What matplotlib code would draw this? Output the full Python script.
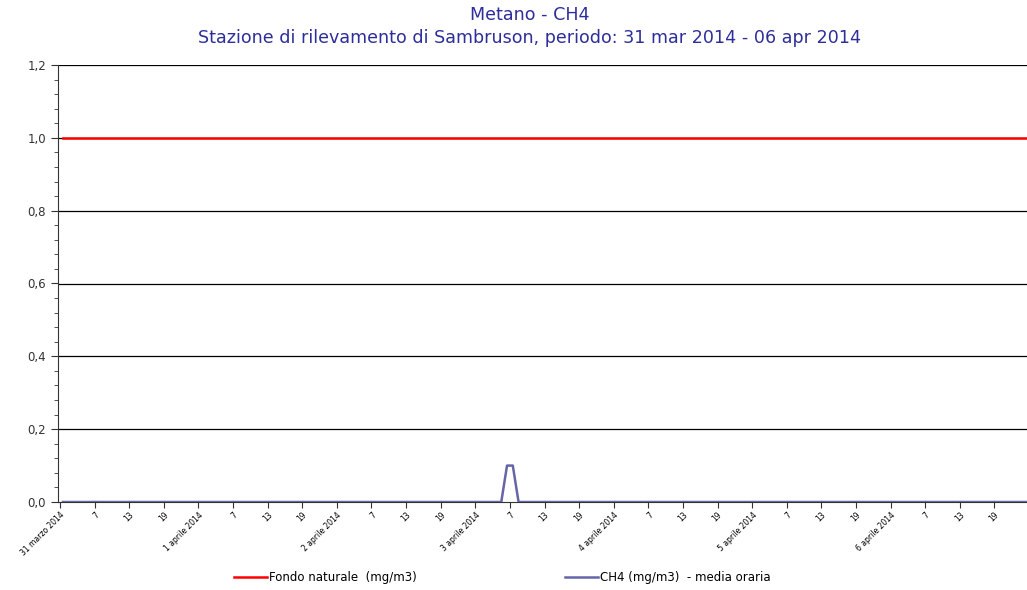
import numpy as np
import matplotlib
matplotlib.use("Agg")
import matplotlib.pyplot as plt
from matplotlib.ticker import MultipleLocator, FuncFormatter

# hourly categories: 7 days x 24 hours (hour 1..24)
days = ["31 marzo 2014", "1 aprile 2014", "2 aprile 2014", "3 aprile 2014",
        "4 aprile 2014", "5 aprile 2014", "6 aprile 2014"]
hour_ticks = [1, 7, 13, 19]

# CH4 hourly means (mg/m3), one list per day
ch4_31mar = [0.0] * 24
ch4_01apr = [0.0] * 24
ch4_02apr = [0.0] * 24
ch4_03apr = [0.0, 0.0, 0.0, 0.0, 0.0, 0.1, 0.1, 0.0, 0.0, 0.0, 0.0, 0.0,
             0.0, 0.0, 0.0, 0.0, 0.0, 0.0, 0.0, 0.0, 0.0, 0.0, 0.0, 0.0]
ch4_04apr = [0.0] * 24
ch4_05apr = [0.0] * 24
ch4_06apr = [0.0] * 24
fondo_naturale = 1.0

ch4 = ch4_31mar + ch4_01apr + ch4_02apr + ch4_03apr + ch4_04apr + ch4_05apr + ch4_06apr
n = len(ch4)
x = np.arange(n)

title_col = "#2e2e9a"
fig = plt.figure(figsize=(10.27, 5.90), dpi=100)
ax = fig.add_axes([58 / 1027, 88 / 590, 1 - 58 / 1027, (502 - 65) / 590])

for y in [0.2, 0.4, 0.6, 0.8, 1.0, 1.2]:
    ax.axhline(y, color="black", lw=0.9, zorder=1)

l1, = ax.plot(x, np.full(n, fondo_naturale), color="#ff0000", lw=1.8, zorder=3,
              label="Fondo naturale  (mg/m3)")
l2, = ax.plot(x, ch4, color="#6565a8", lw=1.8, zorder=3,
              label="CH4 (mg/m3)  - media oraria")

ax.set_xlim(-0.85, n - 0.85)
ax.set_ylim(0, 1.2)

ax.yaxis.set_major_locator(MultipleLocator(0.2))
ax.yaxis.set_minor_locator(MultipleLocator(0.04))
ax.yaxis.set_major_formatter(FuncFormatter(lambda v, p: f"{v:.1f}".replace(".", ",")))
ax.tick_params(axis="y", which="major", length=5, labelsize=8.5, colors="#333333")
ax.tick_params(axis="y", which="minor", length=3, color="#333333")

# category axis: ticks sit on the boundary before each labelled hour
ticks, labels = [], []
for d, day in enumerate(days):
    for h in hour_ticks:
        ticks.append(d * 24 + h - 1.5)
        labels.append(day if h == 1 else str(h))
ax.set_xticks(ticks)
ax.set_xticklabels(labels, rotation=45, ha="right", rotation_mode="anchor",
                   fontsize=5.5)
ax.tick_params(axis="x", length=4, color="#333333", pad=2)

for s in ["top", "right"]:
    ax.spines[s].set_visible(False)
ax.spines["left"].set_color("#333333")
ax.spines["bottom"].set_color("#333333")

fig.text(0.516, 1 - 15 / 590, "Metano - CH4", ha="center", va="center",
         color=title_col, fontsize=12.6)
fig.text(0.516, 1 - 38 / 590,
         "Stazione di rilevamento di Sambruson, periodo: 31 mar 2014 - 06 apr 2014",
         ha="center", va="center", color=title_col, fontsize=12.6)

fig.legend(handles=[l1, l2], loc="center", bbox_to_anchor=(0.489, 1 - 578 / 590),
           ncol=2, frameon=False, fontsize=8.5, columnspacing=12.5, handlelength=2.8,
           handletextpad=0.2)

fig.savefig("out.png", dpi=100)
